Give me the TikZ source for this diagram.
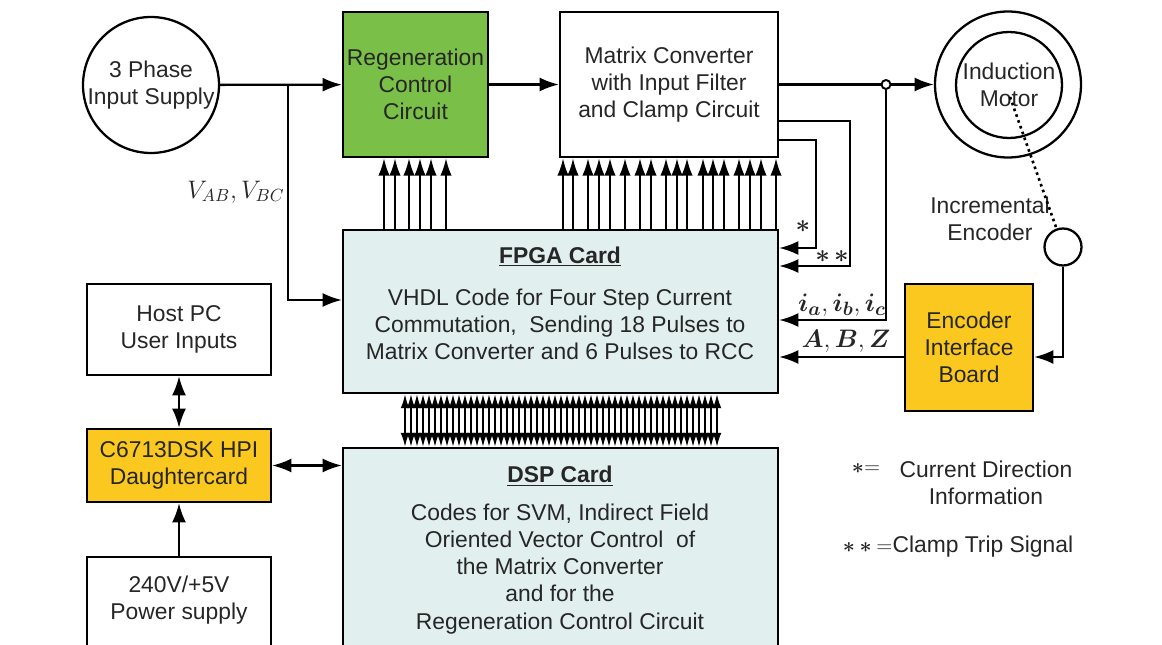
\documentclass[tikz,border=0pt]{standalone}
\usepackage{fontspec}
\setmainfont{Liberation Sans}
\usepackage{bm}
\usepackage{tikz}
\usetikzlibrary{shapes.geometric, arrows.meta, positioning, calc}

\definecolor{regengreen}{RGB}{122,192,72}
\definecolor{boardyellow}{RGB}{250,200,30}
\definecolor{cardblue}{RGB}{226,239,239}

\begin{document}
\begin{tikzpicture}[x=0.02cm, y=-0.02cm, font=\fontsize{13}{15.4}\selectfont, text=black!85,
        block/.style={rectangle, draw, line width=1.3pt, align=center, inner sep=0pt},
        circ/.style={circle, draw, line width=1.3pt, align=center, inner sep=0pt},
        card/.style={block, fill=cardblue},
        txt/.style={align=center, inner sep=1pt},
        line/.style={draw, line width=1.3pt, -{Latex[length=11pt,width=8pt]}},
        dual/.style={line, {Latex[length=11pt,width=8pt]}-{Latex[length=11pt,width=8pt]}},
        pulse/.style={draw, line width=1.2pt, -{Latex[length=10pt,width=6.5pt]}},
        busline/.style={draw, line width=1.1pt, {Latex[length=8pt,width=5pt]}-{Latex[length=8pt,width=5pt]}},
        mathlbl/.style={txt, font=\fontsize{15}{18}\selectfont}]

        \clip (0,0) rectangle (1162,645);

        % power stage
        \node [circ, minimum size=2.72cm] (supply) at (151,85) {3 Phase\\Input Supply};
        \node [block, fill=regengreen, minimum width=2.9cm, minimum height=2.9cm] (regen) at (415.5,84.5) {Regeneration\\Control\\Circuit};
        \node [block, minimum width=4.36cm, minimum height=2.9cm] (matrix) at (669,84.5) {Matrix Converter\\with Input Filter\\and Clamp Circuit};
        \node [circ, minimum size=2.92cm] (motor) at (1008,84.5) {};
        \node [circ, minimum size=2.12cm] (rotor) at (1009,85) {Induction\\Motor};
        \node [circle, draw, line width=1.1pt, fill=white, minimum size=0.18cm, inner sep=0pt] (jn) at (886,84.5) {};
        \coordinate (vtap) at (288,84.5);
        \coordinate (shaft) at (1010,97);

        % control cards
        \node [card, minimum width=8.7cm, minimum height=3.26cm] (fpga) at (560.5,311.5) {};
        \node [txt] (fpgatxt) at (560,303) {\underline{\textbf{FPGA Card}}\\[0.3cm]VHDL Code for Four Step Current\\Commutation,\ \ Sending 18 Pulses to\\Matrix Converter and 6 Pulses to RCC};
        \node [card, minimum width=8.7cm, minimum height=5.2cm, anchor=north] (dsp) at (560.5,447) {};
        \node [txt] (dsptxt) at (560,550) {\underline{\textbf{DSP Card}}\\[0.22cm]Codes for SVM, Indirect Field\\Oriented Vector Control\ \ of\\the Matrix Converter\\and for the\\Regeneration Control Circuit};

        % host side
        \node [block, minimum width=3.68cm, minimum height=1.82cm] (host) at (179,329.5) {Host PC\\User Inputs};
        \node [block, fill=boardyellow, minimum width=3.68cm, minimum height=1.46cm] (hpi) at (179,465.5) {C6713DSK HPI\\Daughtercard};
        \node [block, minimum width=3.68cm, minimum height=2.4cm, anchor=north] (power) at (179,556) {};
        \node [txt] (powertxt) at (179,600) {240V/+5V\\Power supply};

        % encoder
        \node [block, fill=boardyellow, minimum width=2.56cm, minimum height=2.54cm] (eib) at (969,347.5) {Encoder\\Interface\\Board};
        \node [circ, minimum size=0.74cm] (enc) at (1063,247) {};
        \node [txt] (enctxt) at (990,219) {Incremental\\Encoder};

        % connections
        \path [line] (supply) -- (regen);
        \path [line] (vtap) |- ([yshift=0.23cm]fpga.west);
        \path [line] (regen) -- (matrix);
        \draw [line width=1.3pt] (matrix) -- (jn);
        \path [line] (jn) -- (motor);
        \path [line] (jn) |- ([yshift=-0.17cm]fpga.east);
        \path [line] ([yshift=-0.73cm]matrix.east) -- ++(71,0) |- ([yshift=0.91cm]fpga.east);
        \path [line] ([yshift=-1.11cm]matrix.east) -- ++(37,0) |- ([yshift=1.27cm]fpga.east);
        \path [line] (enc) |- ([yshift=-0.19cm]eib.east);
        \path [line] ([yshift=-0.19cm]eib.west) -- ([yshift=-0.19cm]eib.west -| fpga.east);
        \draw [line width=1.5pt, dash pattern=on 1.5pt off 2pt] (shaft) -- (enc);
        \path [dual] (host) -- (hpi);
        \path [dual] (hpi) -- (hpi -| dsp.west);
        \path [line] (power) -- (hpi);

        % gate pulses
        \foreach \x in {384,395,409,420,431,446}
            \path [pulse] (\x,0 |- fpga.north) -- (\x,0 |- regen.south);
        \foreach \x in {563,573,588,599,610,625,640,651,666,677,687,703,713,724,739,750,761,776}
            \path [pulse] (\x,0 |- fpga.north) -- (\x,0 |- matrix.south);
        \foreach \x in {405,411,...,717}
            \path [busline] (\x,0 |- fpga.south) -- (\x,0 |- dsp.north);

        % labels
        \node [txt, font=\fontsize{14}{17}\selectfont] (vlbl) at (236,192) {$V_{AB},V_{BC}$};
        \node [mathlbl] (star1) at (803,227) {$\bm{\ast}$};
        \node [mathlbl] (star2) at (832,257) {$\bm{\ast\,\ast}$};
        \node [mathlbl] (ilbl) at (842,305) {$\bm{i_a}, \bm{i_b}, \bm{i_c}$};
        \node [mathlbl] (abz) at (846,341) {$\bm{A},\bm{B},\bm{Z}$};
        \node [txt] (leg1sym) at (866,469) {$\bm{\ast}{=}$};
        \node [txt] (leg1) at (986,483) {Current Direction\\Information};
        \node [txt] (leg2) at (958,547) {$\bm{\ast\ast}{=}$Clamp Trip Signal};
    \end{tikzpicture}
\end{document}
